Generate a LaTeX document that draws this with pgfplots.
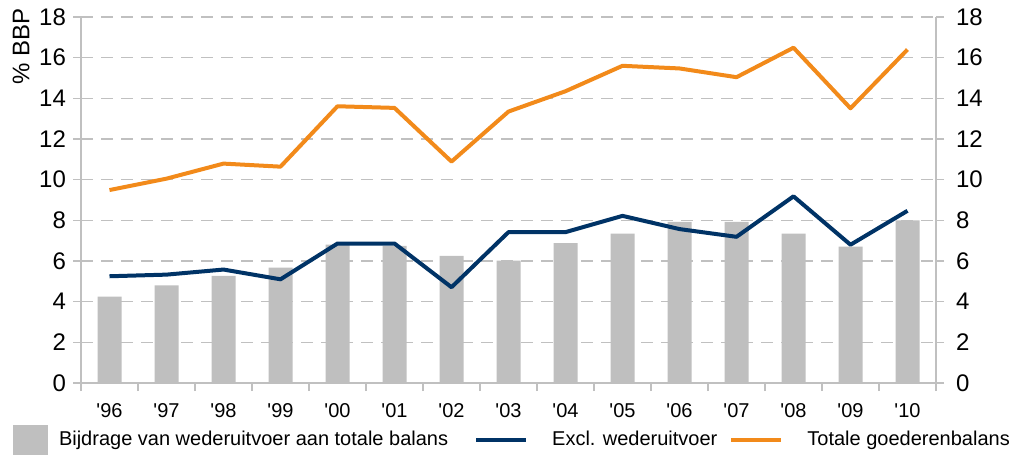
\documentclass[border=0pt]{standalone}
\usepackage{pgfplots}
\pgfplotsset{compat=1.18}
\usepackage{fontspec}
\setmainfont{Liberation Sans}
\definecolor{barGray}{HTML}{BFBFBF}
\definecolor{navy}{HTML}{003366}
\definecolor{orangeL}{HTML}{F28A1A}
\definecolor{lineGray}{HTML}{C0C0C0}

\pgfplotsset{
  common/.style={
    width=427.5pt, height=183pt, scale only axis,
    xmin=-0.5, xmax=14.5, ymin=0, ymax=18,
    ytick={0,2,...,18},
    axis line style={lineGray, line width=0.8pt, -},
    tick align=outside,
    major tick length=4pt, minor tick length=4pt,
    every tick/.style={lineGray, line width=0.8pt},
    yticklabel style={font=\fontsize{12}{14}\selectfont},
    /pgf/number format/assume math mode=true,
  }
}

\begin{document}
\begin{tikzpicture}
\useasboundingbox (-40.5pt,-37pt) rectangle (468pt,191.5pt);
\begin{axis}[
  common,
  axis x line*=bottom, axis y line*=left,
  xtick={0,...,14},
  xticklabels={\textquotesingle96,\textquotesingle97,\textquotesingle98,\textquotesingle99,
    \textquotesingle00,\textquotesingle01,\textquotesingle02,\textquotesingle03,
    \textquotesingle04,\textquotesingle05,\textquotesingle06,\textquotesingle07,
    \textquotesingle08,\textquotesingle09,\textquotesingle10},
  xticklabel style={font=\fontsize{10}{12}\selectfont, yshift=-2.5pt},
  major x tick style={draw=none},
  minor xtick={-0.5,0.5,1.5,2.5,3.5,4.5,5.5,6.5,7.5,8.5,9.5,10.5,11.5,12.5,13.5,14.5},
  ymajorgrids,
  grid style={lineGray, dashed, line width=0.7pt, dash pattern=on 6pt off 4pt},
  clip=false,
  legend columns=3,
  legend style={at={(-0.0795,-0.156)}, anchor=west, draw=none,
    inner sep=0pt, outer sep=0pt,
    font=\fontsize{10}{12}\selectfont,
    nodes={inner xsep=0pt},
    /tikz/every odd column/.append style={column sep=0pt},
    /tikz/column 2/.style={column sep=13pt},
    /tikz/column 4/.style={column sep=6pt}},
]
\addplot[ybar, bar width=12pt, fill=barGray, draw=none,
  legend image code/.code={\fill[barGray] (0pt,-7.5pt) rectangle (17.5pt,7.5pt);
    \path (23pt,0pt);}]
  coordinates {
  (0,4.25) (1,4.8) (2,5.27) (3,5.68) (4,6.8) (5,6.75) (6,6.25)
  (7,6.02) (8,6.88) (9,7.35) (10,7.93) (11,7.93) (12,7.35) (13,6.71) (14,8.0)
};
\addlegendentry{Bijdrage van wederuitvoer aan totale balans}
\addplot[navy, line width=2pt, mark=none, line join=round,
  legend image code/.code={\draw[navy, line width=2pt] (0pt,0pt) -- (25pt,0pt);
    \path (37pt,0pt);}]
  coordinates {
  (0,5.25) (1,5.33) (2,5.58) (3,5.1) (4,6.86) (5,6.86) (6,4.71)
  (7,7.42) (8,7.42) (9,8.22) (10,7.57) (11,7.19) (12,9.18) (13,6.8) (14,8.47)
};
\addlegendentry{Excl. wederuitvoer}
\addplot[orangeL, line width=2pt, mark=none, line join=round,
  legend image code/.code={\draw[orangeL, line width=2pt] (0pt,0pt) -- (25pt,0pt);
    \path (37pt,0pt);}]
  coordinates {
  (0,9.49) (1,10.05) (2,10.79) (3,10.64) (4,13.61) (5,13.53) (6,10.89)
  (7,13.35) (8,14.35) (9,15.6) (10,15.47) (11,15.04) (12,16.49) (13,13.51) (14,16.4)
};
\addlegendentry{Totale goederenbalans}
\node[rotate=90, anchor=south east, inner sep=0pt, font=\fontsize{12}{14}\selectfont]
  at ([xshift=-25.5pt, yshift=4.5pt]rel axis cs:0,1) {\% BBP};
\end{axis}
\begin{axis}[
  common,
  axis x line=none, axis y line*=right,
  yticklabel style={xshift=2.5pt},
]
\addplot[draw=none] coordinates {(0,0)};
\end{axis}
\end{tikzpicture}
\end{document}
